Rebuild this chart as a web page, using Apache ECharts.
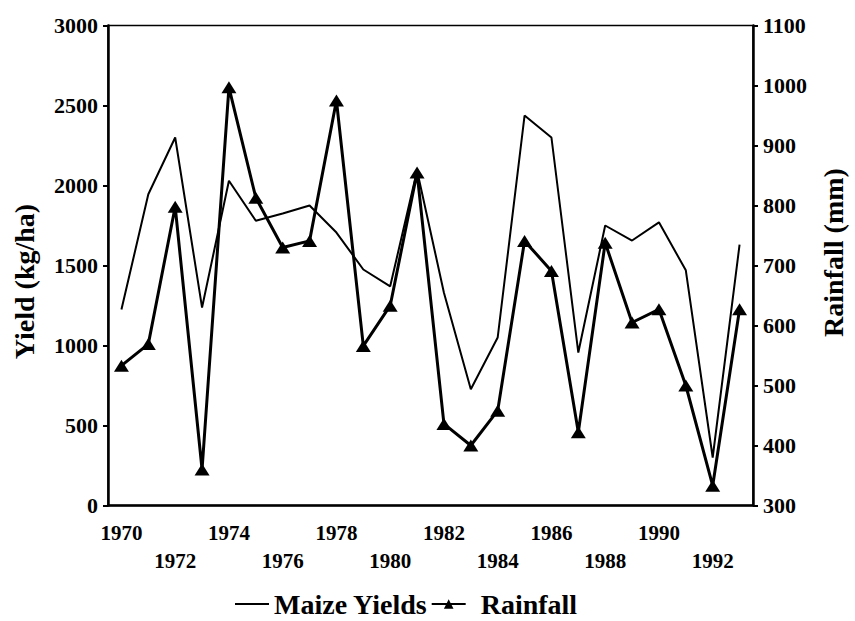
<!DOCTYPE html>
<html>
<head>
<meta charset="utf-8">
<script src="https://cdn.jsdelivr.net/npm/echarts@6/dist/echarts.min.js"></script>
<style>
html,body{margin:0;padding:0;background:#fff;}
#chart{width:855px;height:621px;}
</style>
</head>
<body>
<div id="chart"></div>
<script>
// ---- data ----
const years = ['1970','1971','1972','1973','1974','1975','1976','1977','1978','1979','1980','1981',
               '1982','1983','1984','1985','1986','1987','1988','1989','1990','1991','1992','1993'];
const maizeYields = [1225,1945,2300,1237,2030,1780,1825,1875,1706,1475,1370,2094,
                     1330,727,1050,2437,2300,956,1750,1656,1770,1470,300,1630];
const rainfall = [533,569,798,360,997,813,730,741,975,566,633,855,
                  436,400,458,741,691,422,738,605,627,500,333,627];
const xLabelsRow1 = ['1970','1974','1978','1982','1986','1990'];
const xLabelsRow2 = ['1972','1976','1980','1984','1988','1992'];
const yieldTicks = [0,500,1000,1500,2000,2500,3000];
const rainTicks = [300,400,500,600,700,800,900,1000,1100];

const serif = 'Liberation Serif';
const plain = function(v){ return String(v); };
const chart = echarts.init(document.getElementById('chart'), null, {renderer:'svg'});
chart.setOption({
  animation:false,
  backgroundColor:'#fff',
  grid:{left:108, right:95, top:25.5, bottom:115.5, show:true, borderColor:'#000', borderWidth:1.5, containLabel:false},
  legend:{
    data:[
      {name:'Maize Yields', itemStyle:{color:'rgba(0,0,0,0)', borderWidth:0, opacity:0}},
      {name:'Rainfall', textStyle:{padding:[0,0,0,10]}}
    ],
    left:234, top:590, padding:0, itemGap:3, itemWidth:34, itemHeight:12,
    textStyle:{fontFamily:serif, fontWeight:'bold', fontSize:28, lineHeight:28, color:'#000'}
  },
  xAxis:{
    type:'category', data:years, boundaryGap:true,
    axisLine:{lineStyle:{color:'#000', width:2.5}},
    axisTick:{alignWithLabel:true, length:6, lineStyle:{color:'#000', width:2}, interval:0},
    axisLabel:{
      interval:0, margin:13, lineHeight:28,
      fontFamily:serif, fontWeight:'bold', fontSize:21, color:'#000',
      formatter:function(v){
        if (xLabelsRow1.indexOf(v) >= 0) return v;
        if (xLabelsRow2.indexOf(v) >= 0) return '\n' + v;
        return '';
      }
    },
    splitLine:{show:false}
  },
  yAxis:[
    {
      type:'value', position:'left',
      min:yieldTicks[0], max:yieldTicks[yieldTicks.length-1], interval:yieldTicks[1]-yieldTicks[0],
      name:'Yield (kg/ha)', nameLocation:'middle', nameGap:70,
      nameTextStyle:{fontFamily:serif, fontWeight:'bold', fontSize:28, color:'#000', padding:[0,32,0,0]},
      axisLine:{show:true, lineStyle:{color:'#000', width:2.5}},
      axisTick:{show:true, length:5, lineStyle:{color:'#000', width:2}},
      axisLabel:{margin:10, fontFamily:serif, fontWeight:'bold', fontSize:22, color:'#000', formatter:plain},
      splitLine:{show:false}
    },
    {
      type:'value', position:'right',
      min:rainTicks[0], max:rainTicks[rainTicks.length-1], interval:rainTicks[1]-rainTicks[0],
      name:'Rainfall (mm)', nameLocation:'middle', nameGap:66,
      nameTextStyle:{fontFamily:serif, fontWeight:'bold', fontSize:28, color:'#000', padding:[0,0,0,26]},
      axisLine:{show:true, lineStyle:{color:'#000', width:2.5}},
      axisTick:{show:true, length:5, lineStyle:{color:'#000', width:2}},
      axisLabel:{margin:10, fontFamily:serif, fontWeight:'bold', fontSize:22, color:'#000', formatter:plain},
      splitLine:{show:false}
    }
  ],
  series:[
    {
      name:'Maize Yields', type:'line', yAxisIndex:0, data:maizeYields,
      symbol:'none', lineStyle:{color:'#000', width:2}, itemStyle:{color:'#000'}
    },
    {
      name:'Rainfall', type:'line', yAxisIndex:1, data:rainfall,
      symbol:'triangle', symbolSize:[15,12], showAllSymbol:true,
      lineStyle:{color:'#000', width:3}, itemStyle:{color:'#000'}
    }
  ]
});
</script>
</body>
</html>
